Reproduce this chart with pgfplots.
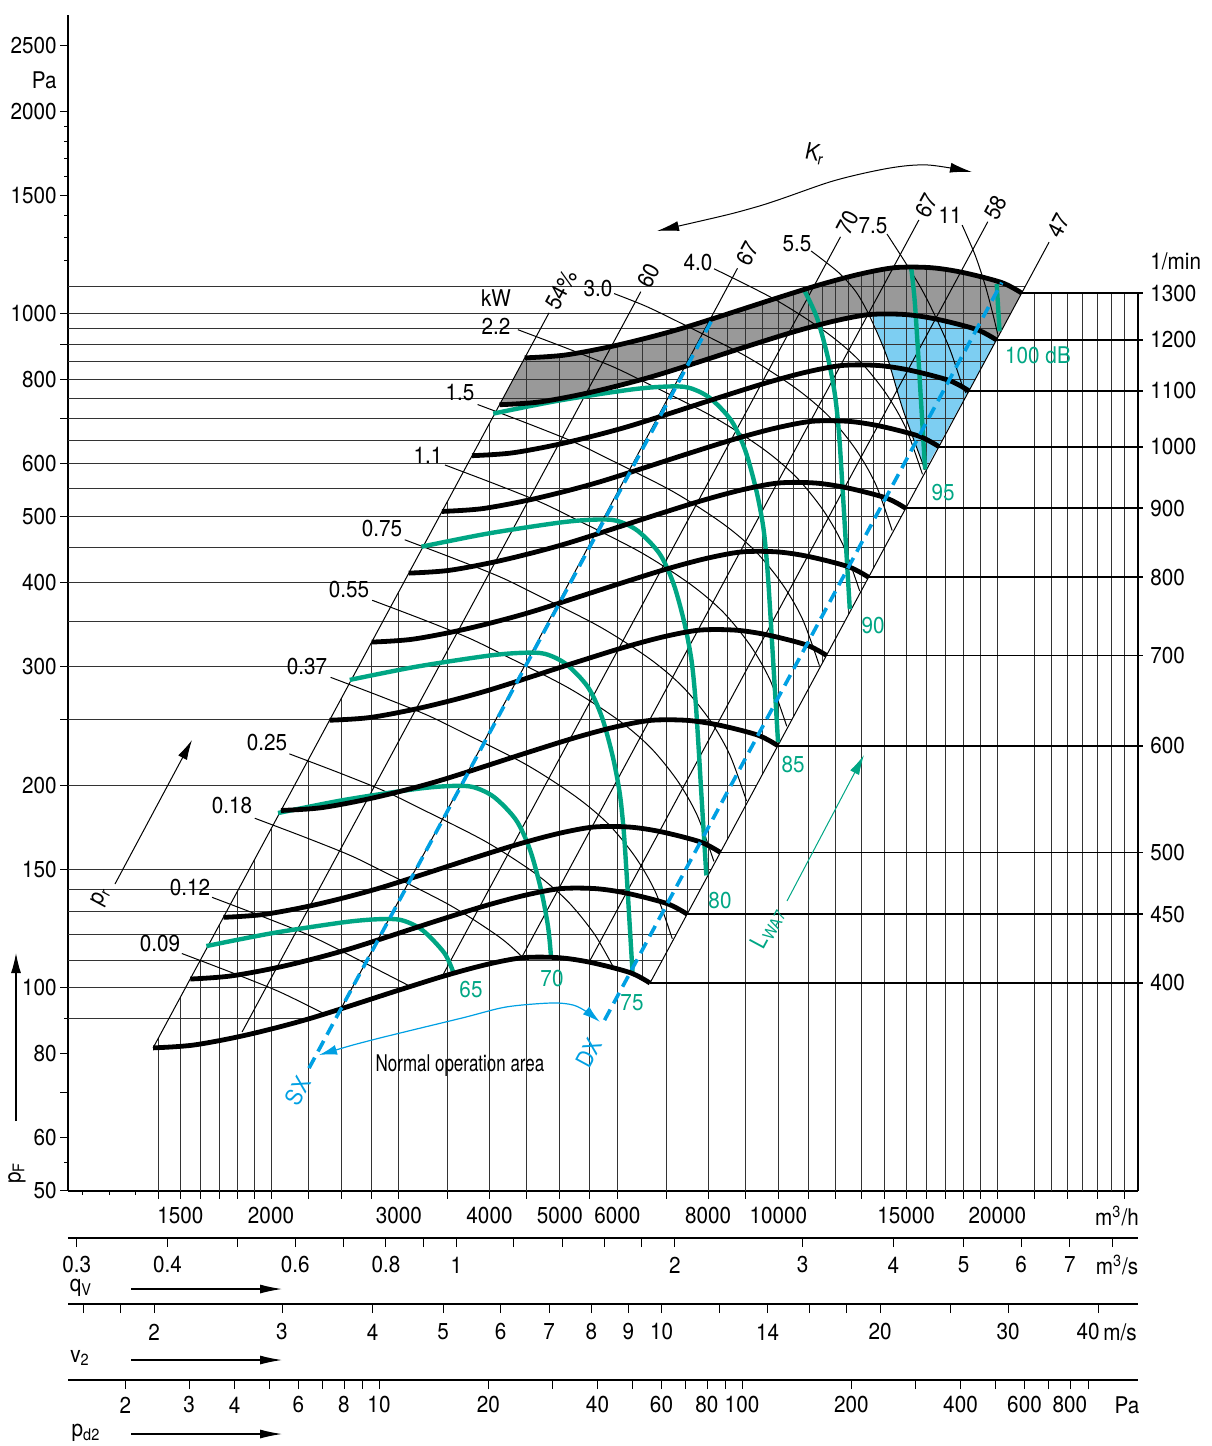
\documentclass[border=0pt]{standalone}
\usepackage{fontspec}
\setmainfont{TeX Gyre Heros}[FakeStretch=0.9]
\usepackage{pgfplots}
\pgfplotsset{compat=1.18}
\usetikzlibrary{arrows.meta}
\definecolor{fangreen}{RGB}{0,166,132}
\definecolor{fanblue}{RGB}{0,160,227}
\definecolor{bluefill}{RGB}{125,206,242}
\definecolor{bandgray}{RGB}{153,153,153}
\begin{document}
\begin{tikzpicture}[
  gl/.style={line width=0.5pt,black!80},
  el/.style={line width=0.5pt,black},
  pl/.style={line width=0.5pt,black,smooth},
  rpm/.style={line width=2.4pt,black,smooth},
  rl/.style={line width=0.9pt,black},
  db/.style={line width=2.2pt,fangreen,smooth},
  bd/.style={line width=1.8pt,fanblue,dash pattern=on 6pt off 3.5pt},
  t/.style={inner sep=0pt,font=\fontsize{11.5}{13}\selectfont},
  rt/.style={t,rotate=61.7,anchor=west},
]
\path[use as bounding box] (0,0) rectangle (605.5pt,-723pt);
\begin{axis}[
  at={(34pt,-595.445pt)}, anchor=south west, scale only axis,
  width=535pt, height=588.09pt,
  xmode=log, ymode=log,
  xmin=1050.6, xmax=31276, ymin=50, ymax=2780,
  axis x line*=bottom, axis y line*=left,
  axis line style={line width=0.7pt},
  clip=false,
  tick align=outside,
  major tick length=4pt, minor tick length=2pt,
  every tick/.style={black,line width=0.5pt},
  xtick={1400,1500,1600,1700,1800,1900,2000,2250,2500,2750,3000,3500,4000,4500,5000,5500,6000,7000,8000,9000,10000,11000,12000,13000,14000,15000,16000,17000,18000,19000,20000,22500,25000,27500,30000},
  xticklabels={},
  minor xtick={1100,1200,1300},
  ytick={50,60,70,80,100,150,200,250,300,400,500,600,700,800,900,1000,1500,2000,2500},
  yticklabels={},
  minor ytick={55,90,1200,1300,1400,1600,1700,1800,1900},
]
% gray band between 1300 and 1200 1/min
\addplot[fill=bandgray,draw=none] coordinates {(4472,860.8)(5090,869.3)(6022,899.9)(7355,951.7)(9757,1048.9)(11359,1103.8)(12899,1145.0)(14453,1171.4)(16201,1171.4)(17937,1152.4)(20296,1113.3)(21622,1074.2)(19959,915.3)(18735,948.6)(16557,981.9)(14955,998.1)(13341,998.1)(11907,975.6)(10485,940.5)(9006,893.7)(6789,810.9)(5559,766.8)(4698,740.7)(4128,733.5)(4472,860.8)};
% blue area
\addplot[fill=bluefill,draw=none] coordinates {(13400,998)(14108,863.6)(14846,720.3)(15918,586.9)(19959,915.3)(18735,948.6)(16557,983)(14955,999.5)(13400,998)};
% horizontal grid lines
\addplot[gl] coordinates {(1050.6,1100)(21880,1100)};
\addplot[gl] coordinates {(1050.6,1000)(20862,1000)};
\addplot[gl] coordinates {(1050.6,950)(20334,950)};
\addplot[gl] coordinates {(1050.6,900)(19791,900)};
\addplot[gl] coordinates {(1050.6,850)(19234,850)};
\addplot[gl] coordinates {(1050.6,800)(18660,800)};
\addplot[gl] coordinates {(1050.6,750)(18067,750)};
\addplot[gl] coordinates {(1050.6,700)(17455,700)};
\addplot[gl] coordinates {(1050.6,650)(16819,650)};
\addplot[gl] coordinates {(1050.6,600)(16160,600)};
\addplot[gl] coordinates {(1050.6,550)(15471,550)};
\addplot[gl] coordinates {(1050.6,500)(14752,500)};
\addplot[gl] coordinates {(1050.6,450)(13995,450)};
\addplot[gl] coordinates {(1050.6,400)(13194,400)};
\addplot[gl] coordinates {(1050.6,350)(12342,350)};
\addplot[gl] coordinates {(1050.6,300)(11427,300)};
\addplot[gl] coordinates {(1050.6,250)(10431,250)};
\addplot[gl] coordinates {(1050.6,200)(9330,200)};
\addplot[gl] coordinates {(1050.6,150)(8080,150)};
\addplot[gl] coordinates {(1050.6,140)(7806,140)};
\addplot[gl] coordinates {(1050.6,130)(7522,130)};
\addplot[gl] coordinates {(1050.6,120)(7227,120)};
\addplot[gl] coordinates {(1050.6,110)(6919,110)};
\addplot[gl] coordinates {(1050.6,100)(3070,100)};
\addplot[gl] coordinates {(1050.6,90)(2260,90)};
% vertical grid lines from the bottom
\addplot[gl] coordinates {(1400,50)(1400,84.4)};
\addplot[gl] coordinates {(1500,50)(1500,96.9)};
\addplot[gl] coordinates {(1600,50)(1600,110.2)};
\addplot[gl] coordinates {(1700,50)(1700,124.4)};
\addplot[gl] coordinates {(1800,50)(1800,139.5)};
\addplot[gl] coordinates {(1900,50)(1900,155.4)};
\addplot[gl] coordinates {(2000,50)(2000,172.2)};
\addplot[gl] coordinates {(2250,50)(2250,217.9)};
\addplot[gl] coordinates {(2500,50)(2500,269.0)};
\addplot[gl] coordinates {(2750,50)(2750,325.5)};
\addplot[gl] coordinates {(3000,50)(3000,387.4)};
\addplot[gl] coordinates {(3500,50)(3500,527.3)};
\addplot[gl] coordinates {(4000,50)(4000,688.7)};
\addplot[gl] coordinates {(4500,50)(4500,861.2)};
\addplot[gl] coordinates {(5000,50)(5000,868.1)};
\addplot[gl] coordinates {(5500,50)(5500,884)};
\addplot[gl] coordinates {(6000,50)(6000,899)};
\addplot[gl] coordinates {(7000,50)(7000,938.9)};
\addplot[gl] coordinates {(8000,50)(8000,980.6)};
\addplot[gl] coordinates {(9000,50)(9000,1021.1)};
\addplot[gl] coordinates {(10000,50)(10000,1057.8)};
\addplot[gl] coordinates {(11000,50)(11000,1092.2)};
\addplot[gl] coordinates {(12000,50)(12000,1121.6)};
\addplot[gl] coordinates {(13000,50)(13000,1146.8)};
\addplot[gl] coordinates {(14000,50)(14000,1164)};
\addplot[gl] coordinates {(15000,50)(15000,1174)};
\addplot[gl] coordinates {(16000,50)(16000,1173)};
\addplot[gl] coordinates {(17000,50)(17000,1162.4)};
\addplot[gl] coordinates {(18000,50)(18000,1151.3)};
\addplot[gl] coordinates {(19000,50)(19000,1134.2)};
\addplot[gl] coordinates {(20000,50)(20000,1117)};
\addplot[gl] coordinates {(22500,50)(22500,1074.2)};
\addplot[gl] coordinates {(23750,50)(23750,1074.2)};
\addplot[gl] coordinates {(25000,50)(25000,1074.2)};
\addplot[gl] coordinates {(26250,50)(26250,1074.2)};
\addplot[gl] coordinates {(27500,50)(27500,1074.2)};
\addplot[gl] coordinates {(28750,50)(28750,1074.2)};
\addplot[gl] coordinates {(30000,50)(30000,1074.2)};
\addplot[line width=0.7pt,black] coordinates {(31276,50)(31276,1074.2)};
% vertical grid lines inside the field only
\addplot[gl] coordinates {(6500,103.1)(6500,919.7)};
\addplot[gl] coordinates {(7500,129.2)(7500,958.4)};
\addplot[gl] coordinates {(8500,166.0)(8500,1001.5)};
\addplot[gl] coordinates {(9500,207.4)(9500,1039.7)};
\addplot[gl] coordinates {(10500,253.3)(10500,1075.4)};
\addplot[gl] coordinates {(11500,303.9)(11500,1107.5)};
\addplot[gl] coordinates {(12500,359.0)(12500,1134.8)};
\addplot[gl] coordinates {(13500,418.7)(13500,1155.6)};
% efficiency lines (54, 60, 67, 70, 67, 58, 47 %)
\addplot[el] coordinates {(1376,81.5)(4830,1004)};
\addplot[el] coordinates {(1825,86.05)(6462,1079)};
\addplot[el] coordinates {(2489,92.6)(8780,1169)};
\addplot[el] coordinates {(3451,104.6)(12172,1301.5)};
\addplot[el] coordinates {(4419,110.5)(15608,1378.7)};
\addplot[el] coordinates {(5501,109.9)(19424,1370.4)};
\addplot[el] coordinates {(6653,101.7)(23587,1278)};
% power lines (kW)
\addplot[pl] coordinates {(1507.4,112.5)(1766.5,105.4)(2037.3,99.1)(2262.6,93.85)(2381,91.27)};
\addplot[pl] coordinates {(1659.2,136.3)(1944.4,127.7)(2242.6,120.1)(2490.5,113.7)(3113,100.5)};
\addplot[pl] coordinates {(1899.6,178.6)(2226.1,167.4)(2567.4,157.4)(2851.3,149.0)(3526.8,132.7)(4131.2,118.9)(4447,110.9)};
\addplot[pl] coordinates {(2120.0,222.5)(2484.5,208.5)(2865.4,196.0)(3182.2,185.6)(3936.1,165.3)(4610.6,148.2)(5120.3,134.6)(5577.5,120.2)(5928,107.2)};
\addplot[pl] coordinates {(2416.2,289.0)(2831.5,270.8)(3265.7,254.6)(3626.7,241.1)(4485.9,214.7)(5254.7,192.4)(5835.6,174.9)(6356.7,156.2)(6773.4,138.6)(7141,118.3)};
\addplot[pl] coordinates {(2756.5,376.1)(3230.4,352.5)(3725.6,331.4)(4137.6,313.8)(5117.8,279.4)(5994.8,250.5)(6657.6,227.6)(7252.0,203.3)(7727.5,180.4)(8147,154.1)};
\addplot[pl] coordinates {(3056.4,462.4)(3581.8,433.3)(4130.9,407.5)(4587.7,385.8)(5674.6,343.5)(6647.0,307.9)(7381.9,279.8)(8041.0,249.9)(8568.2,221.8)(9035,189.5)};
\addplot[pl] coordinates {(3473,597.0)(4070,559.5)(4694,526.1)(5213,498.2)(6448,443.5)(7553,397.6)(8388,361.3)(9137,322.7)(9736,286.4)(10265,244.5)};
\addplot[pl] coordinates {(3851.2,734.1)(4513.2,688.0)(5205.2,646.9)(5780.7,612.6)(7150.2,545.4)(8375.5,488.9)(9301.5,444.3)(10132,396.8)(10796,352.2)(11385,300.8)};
\addplot[pl] coordinates {(4375.7,947.7)(5127.9,888.2)(5914.1,835.1)(6568,790.8)(8124,704.0)(9516.2,631.2)(10568,573.5)(11512,512.3)(12267,454.6)(12937,388.2)};
\addplot[pl] coordinates {(5937,1072.2)(6559.8,1027.4)(7285.1,973.0)(9010.9,866.1)(10555,776.5)(11722,705.6)(12769,630.2)(13606,559.3)(14339,477.3)};
\addplot[pl] coordinates {(8150,1167)(9916.5,1049.0)(11616,940.4)(12900,854.5)(14052,763.2)(14973,677.4)(15787,578.3)};
\addplot[pl] coordinates {(11089,1240)(12079,1154)(12790,1078)(13367,989.8)(14108,863.6)(14846,720.3)(15918,586.9)};
\addplot[pl] coordinates {(14108,1314)(14941,1194)(15767,1085.5)(16535,979.7)(17235,884.5)(17904,784.7)(18132,763.6)};
\addplot[pl] coordinates {(17904,1355)(18656,1223)(19258,1104)(19752,996.6)(20036,934.0)};
% sound power lines (dB)
\addplot[db] coordinates {(1629.3,115.4)(2008.3,120.6)(2523.2,125.2)(2819.8,126.5)(3023.6,126.1)(3231.8,121.9)(3464.9,112.7)(3568.5,105.3)};
\addplot[db] coordinates {(2044.9,181.8)(2520.8,190.1)(3167.8,197.4)(3539.4,199.4)(3795.3,198.7)(4057.6,192.0)(4350.8,177.5)(4548.3,160.2)(4709.7,139.8)(4815.5,123.2)(4861.5,111.0)};
\addplot[db] coordinates {(2567.4,286.5)(3164.9,299.6)(3977.2,311.1)(4443.7,314.3)(4765.0,313.2)(5094.3,302.6)(5462.4,279.7)(5710.4,252.5)(5913.0,220.3)(6045.8,194.2)(6122.7,170.4)(6181.2,146.2)(6240.3,123.2)(6296.0,105.1)};
\addplot[db] coordinates {(3223.4,451.6)(3973.6,472.2)(4993.5,490.3)(5579.2,495.3)(5982.6,493.5)(6396.1,476.9)(6858.2,440.9)(7169.6,397.9)(7424.0,347.2)(7590.7,306.0)(7683.5,268.6)(7756.9,230.3)(7831.1,194.1)(7906.9,163.7)(7954.6,146.9)};
\addplot[db] coordinates {(4046.9,711.6)(4988.7,744.1)(6269.1,772.7)(7004.5,780.5)(7511.0,777.8)(8030.1,751.6)(8610.3,694.8)(9001.2,627.1)(9320.6,547.2)(9530.0,482.3)(9646.6,423.2)(9738.8,362.9)(9831.4,305.9)(9925.7,257.9)(9985.7,231.4)};
\addplot[db] coordinates {(10827,1089.1)(11295,987.8)(11696,861.8)(11959,759.4)(12112,666.9)(12227,571.8)(12344,482.1)(12462,406.4)(12537,364.8)};
\addplot[db] coordinates {(15238,1168)(15398,1050.8)(15545,901.1)(15694,759.7)(15844,640.3)(15920,588.0)};
\addplot[db] coordinates {(19979,1107.9)(20081,1008.9)(20157,942.6)};
% fan speed curves (1/min)
\addplot[rpm] coordinates {(1376,81.5)(1566,82.3)(1853,85.2)(2263,90.1)(3002,99.3)(3495,104.5)(3969,108.4)(4447,110.9)(4985,110.9)(5519,109.1)(6245,105.4)(6653,101.7)};
\addplot[rpm] coordinates {(1548,103.1)(1762,104.2)(2085,107.8)(2546,114.0)(3377,125.7)(3932,132.3)(4465,137.2)(5003,140.4)(5608,140.4)(6209,138.1)(7026,133.4)(7485,128.7)};
\addplot[rpm] coordinates {(1720,127.3)(1958,128.6)(2316,133.1)(2829,140.8)(3753,155.2)(4369,163.3)(4961,169.4)(5559,173.3)(6231,173.3)(6899,170.5)(7806,164.7)(8316,158.9)};
\addplot[rpm] coordinates {(2064,183.4)(2349,185.2)(2780,191.7)(3395,202.7)(4503,223.4)(5243,235.1)(5954,243.9)(6671,249.5)(7478,249.5)(8279,245.5)(9368,237.2)(9980,228.8)};
\addplot[rpm] coordinates {(2408,249.6)(2741,252.0)(3243,260.9)(3960,275.9)(5254,304.1)(6116,320.0)(6946,332.0)(7782,339.6)(8724,339.6)(9658,334.1)(10929,322.8)(11643,311.5)};
\addplot[rpm] coordinates {(2752,326.0)(3132,329.2)(3706,340.8)(4526,360.4)(6004,397.2)(6990,418.0)(7938,433.6)(8894,443.6)(9970,443.6)(11038,436.4)(12490,421.6)(13306,406.8)};
\addplot[rpm] coordinates {(3096,412.6)(3524,416.6)(4169,431.3)(5092,456.1)(6755,502.7)(7864,529.0)(8930,548.8)(10006,561.4)(11216,561.4)(12418,552.3)(14051,533.6)(14969,514.9)};
\addplot[rpm] coordinates {(3440,509.4)(3915,514.4)(4633,532.5)(5658,563.1)(7505,620.6)(8738,653.1)(9923,677.5)(11118,693.1)(12463,693.1)(13798,681.9)(15613,658.8)(16633,635.6)};
\addplot[rpm] coordinates {(3784,616.3)(4307,622.4)(5096,644.3)(6223,681.4)(8256,751.0)(9611,790.3)(10915,819.8)(12229,838.7)(13709,838.7)(15177,825.1)(17174,797.1)(18296,769.1)};
\addplot[rpm] coordinates {(4128,733.5)(4698,740.7)(5559,766.8)(6789,810.9)(9006,893.7)(10485,940.5)(11907,975.6)(13341,998.1)(14955,998.1)(16557,981.9)(18735,948.6)(19959,915.3)};
\addplot[rpm] coordinates {(4472,860.8)(5090,869.3)(6022,899.9)(7355,951.7)(9757,1048.9)(11359,1103.8)(12899,1145.0)(14453,1171.4)(16201,1171.4)(17937,1152.4)(20296,1113.3)(21622,1074.2)};
% speed lines to the right scale
\addplot[rl] coordinates {(6653,101.7)(31776,101.7)};
\addplot[rl] coordinates {(7485,128.7)(31776,128.7)};
\addplot[rl] coordinates {(8316,158.9)(31776,158.9)};
\addplot[rl] coordinates {(9980,228.8)(31776,228.8)};
\addplot[rl] coordinates {(11643,311.5)(31776,311.5)};
\addplot[rl] coordinates {(13306,406.8)(31776,406.8)};
\addplot[rl] coordinates {(14969,514.9)(31776,514.9)};
\addplot[rl] coordinates {(16633,635.6)(31776,635.6)};
\addplot[rl] coordinates {(18296,769.1)(31776,769.1)};
\addplot[rl] coordinates {(19959,915.3)(31776,915.3)};
\addplot[rl] coordinates {(21622,1074.2)(31776,1074.2)};
% SX and DX limits
\addplot[bd] coordinates {(2256,76.05)(8089,977.6)};
\addplot[bd] coordinates {(5760,89.6)(20296,1113.3)};
\end{axis}
% flow scales
\begin{axis}[at={(34pt,-619pt)}, anchor=south west, scale only axis, width=535pt, height=2pt,
  xmode=log, xmin=0.29183, xmax=8.6878, ymin=0, ymax=1,
  axis y line=none, axis x line*=bottom, axis line style={line width=0.7pt},
  tick align=outside, major tick length=4.5pt, every tick/.style={black,line width=0.5pt},
  xtick={0.3,0.4,0.5,0.6,0.7,0.8,0.9,1,1.2,1.4,1.6,1.8,2,3,4,5,6,7,8}, xticklabels={}]
\addplot[draw=none] coordinates {(1,0.5)};
\end{axis}
\begin{axis}[at={(34pt,-652pt)}, anchor=south west, scale only axis, width=535pt, height=2pt,
  xmode=log, xmin=1.5217, xmax=45.30, ymin=0, ymax=1,
  axis y line=none, axis x line*=bottom, axis line style={line width=0.7pt},
  tick align=outside, major tick length=4.5pt, every tick/.style={black,line width=0.5pt},
  xtick={1.6,1.8,2,3,4,5,6,7,8,9,10,12,14,16,18,20,25,30,40}, xticklabels={}]
\addplot[draw=none] coordinates {(5,0.5)};
\end{axis}
\begin{axis}[at={(34pt,-690pt)}, anchor=south west, scale only axis, width=535pt, height=2pt,
  xmode=log, xmin=1.3893, xmax=1231.2, ymin=0, ymax=1,
  axis y line=none, axis x line*=bottom, axis line style={line width=0.7pt},
  tick align=outside, major tick length=4.5pt, every tick/.style={black,line width=0.5pt},
  xtick={2,3,4,5,6,7,8,9,10,20,30,40,50,60,70,80,90,100,200,300,400,500,600,700,800,900}, xticklabels={}]
\addplot[draw=none] coordinates {(10,0.5)};
\end{axis}
% ---- texts and annotations in pixel coordinates ----
\begin{scope}[x=0.5pt,y=-0.5pt]
\foreach \y/\s in {45.8/2500,80/Pa,111.1/2000,195.3/1500,314/1000,379.3/800,463.5/600,516.9/500,582.2/400,666.4/300,785.1/200,869.3/150,988/100,1053.3/80,1137.5/60,1190.9/50}
  \node[t,anchor=east] at (57,\y) {\s};
\foreach \x/\s in {180.3/1500,271/2000,398.8/3000,489.5/4000,559.9/5000,617.4/6000,708.1/8000,778.4/10000,906.2/15000,997.3/20000}
  \node[t] at (\x,1216) {\s};
\node[t] at (1117,1216) {m\textsuperscript{3}/h};
\foreach \x/\s in {76.7/0.3,167.4/0.4,295.3/0.6,386/0.8,456.3/1,674.8/2,802.6/3,893.3/4,963.7/5,1021.2/6,1069.8/7}
  \node[t] at (\x,1265) {\s};
\node[t] at (1117,1265) {m\textsuperscript{3}/s};
\foreach \x/\s in {154.2/2,282/3,372.7/4,443.1/5,500.6/6,549.2/7,591.3/8,628.4/9,661.7/10,767.7/14,880.2/20,1008/30}
  \node[t] at (\x,1332) {\s};
\node[t,anchor=east] at (1100,1332) {40};
\node[t,anchor=west] at (1103,1332) {m/s};
\foreach \x/\s in {125.3/2,189.2/3,234.6/4,298.5/6,343.8/8,379/10,488.3/20,597.5/40,661.5/60,706.8/80,742/100,851.3/200,960.5/400,1024.5/600,1069.8/800}
  \node[t] at (\x,1405) {\s};
\node[t] at (1127,1405) {Pa};
\node[t] at (81,1288) {q\textsubscript{V}};
\node[t] at (80,1358) {v\textsubscript{2}};
\node[t] at (86,1433) {p\textsubscript{d2}};
\draw[line width=0.6pt,-{Latex[length=11pt,width=4.5pt]}] (131,1289) -- (282,1289);
\draw[line width=0.6pt,-{Latex[length=11pt,width=4.5pt]}] (131,1360) -- (282,1360);
\draw[line width=0.6pt,-{Latex[length=11pt,width=4.5pt]}] (131,1434) -- (282,1434);
% right speed scale
\foreach \y/\s in {293.1/1300,339.9/1200,390.9/1100,446.7/1000,508.3/900,577.3/800,655.4/700,745.7/600,852.4/500,914.1/450,983/400}
  \node[t,anchor=west] at (1150,\y) {\s};
\node[t,anchor=west] at (1150,261) {1/min};
% power labels
\foreach \x/\y/\s in {160/944/0.09,190/888/0.12,232/806/0.18,267/743/0.25,307/667/0.37,349/590/0.55,382/529/0.75,428/455/1.1,460/393/1.5,496/326/2.2,598/289/3.0,698/263/4.0,797/244/5.5,873/226/7.5,950/215/11,496/298/kW}
  \node[t] at (\x,\y) {\s};
% efficiency labels
\node[rt] at (551,308) {54\%};
\node[rt] at (643,286) {60};
\node[rt] at (742,264) {67};
\node[rt] at (842,233) {70};
\node[rt] at (921,216) {67};
\node[rt] at (990,218) {58};
\node[rt] at (1053,236) {47};
% sound labels
\foreach \x/\y/\s in {471/990/65,552/979/70,632/1003/75,720/901/80,793/765/85,873/626/90,943/493/95,1038/355/100 dB}
  \node[t,text=fangreen] at (\x,\y) {\s};
\node[t,rotate=61.7,text=fangreen] at (768,928) {L\textsubscript{WA7}};
\draw[line width=0.5pt,fangreen,-{Latex[length=10pt,width=5pt]}] (787,901) -- (864,755);
% SX / DX
\node[t,rotate=61.7,text=fanblue] at (298,1091) {SX};
\node[t,rotate=61.7,text=fanblue] at (589,1053) {DX};
\draw[fanblue,line width=0.6pt,{Latex[length=9pt,width=5pt]}-{Latex[length=9pt,width=5pt]}] plot[smooth] coordinates {(319,1055) (372,1040) (462,1018) (506,1007) (551,1003) (573,1005) (587,1012) (600,1022)};
\node[t] at (460,1066) {\scalebox{0.82}[1]{Normal operation area}};
% Kr arrow
\draw[line width=0.5pt,{Latex[length=11pt,width=5pt]}-{Latex[length=11pt,width=5pt]}] plot[smooth] coordinates {(657,231) (756,207) (833,181) (890,168) (928,165) (972,172)};
\node[t,rotate=-12] at (815,154) {K\textsubscript{r}};
% pr arrow
\draw[line width=0.5pt,-{Latex[length=10pt,width=5pt]}] (115,884) -- (192,740);
\node[t,rotate=61.7] at (101,897) {p\textsubscript{r}};
% pF
\draw[line width=0.6pt,-{Latex[length=10pt,width=5pt]}] (16,1121) -- (16,953);
\node[t,rotate=90] at (17,1173) {p\textsubscript{F}};
\end{scope}
\end{tikzpicture}
\end{document}
